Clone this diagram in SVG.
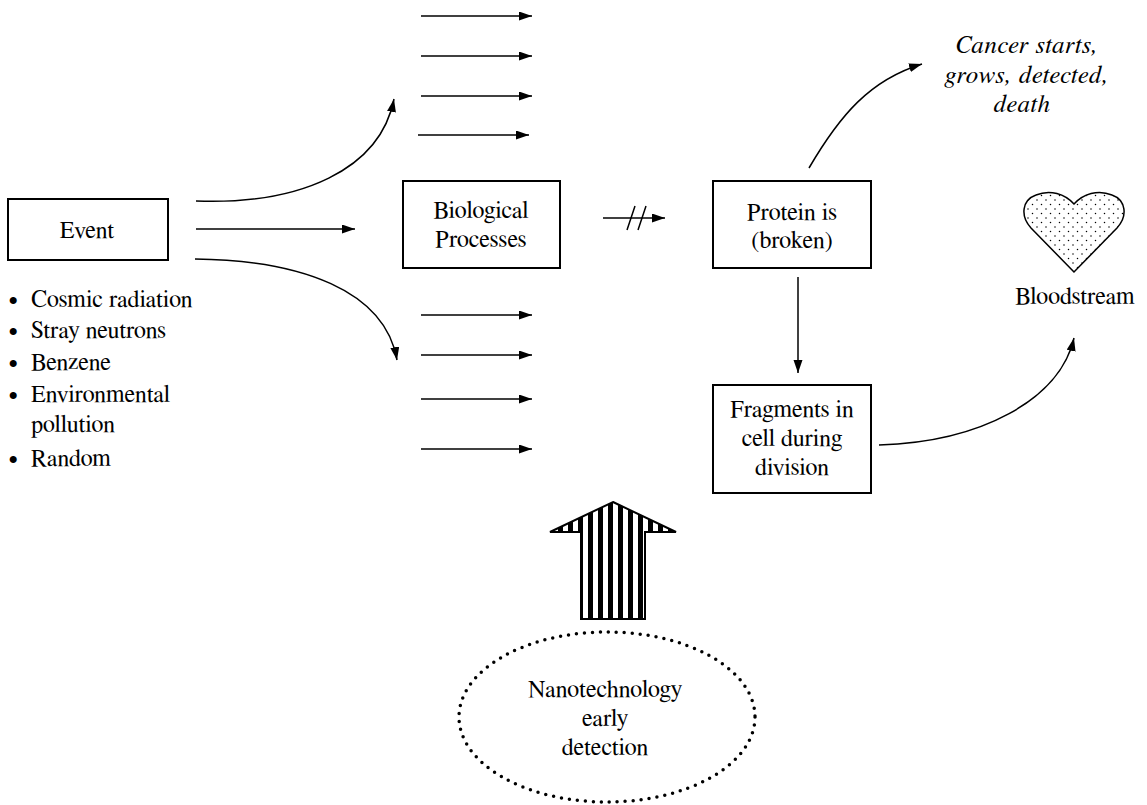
<svg xmlns="http://www.w3.org/2000/svg" width="1147" height="805" viewBox="0 0 1147 805">
<style>
text{font-family:'FreeSerif','Liberation Serif','Times New Roman',serif;font-size:24px;fill:#000}
.c{text-anchor:middle}
.it{font-style:italic;font-size:25px;letter-spacing:0.7px}
.bul{font-size:26px}
.box{fill:#fff;stroke:#000;stroke-width:2}
.ln{fill:none;stroke:#000;stroke-width:1.5}
.arr{fill:none;stroke:#000;stroke-width:1.5;marker-end:url(#ah)}
</style>
<defs>
<marker id="ah" markerUnits="userSpaceOnUse" markerWidth="14" markerHeight="10" refX="13" refY="4.5" orient="auto">
<path d="M0,0 L13,4.5 L0,9 z" fill="#000"/>
</marker>
<pattern id="stripes" patternUnits="userSpaceOnUse" x="588" y="0" width="10" height="10">
<rect x="0" y="0" width="5" height="10" fill="#000"/>
<rect x="5" y="0" width="5" height="10" fill="#fff"/>
</pattern>
<pattern id="dots" patternUnits="userSpaceOnUse" x="0" y="0" width="9" height="9">
<rect width="9" height="9" fill="#fff"/>
<circle cx="2" cy="2" r="0.75" fill="#000"/>
<circle cx="6.5" cy="6.5" r="0.75" fill="#000"/>
</pattern>
</defs>
<rect width="1147" height="805" fill="#fff"/>

<g id="connectors">
<path class="arr" d="M196,201 C300,205 380,170 394,99"/>
<line class="arr" x1="196" y1="229" x2="355" y2="229"/>
<path class="arr" d="M195,259 C300,260 385,290 397,360"/>
<line class="arr" x1="421" y1="16" x2="532" y2="16"/>
<line class="arr" x1="421" y1="56" x2="532" y2="56"/>
<line class="arr" x1="421" y1="96" x2="532" y2="96"/>
<line class="arr" x1="418" y1="135" x2="529" y2="135"/>
<line class="arr" x1="421" y1="315" x2="532" y2="315"/>
<line class="arr" x1="421" y1="355" x2="532" y2="355"/>
<line class="arr" x1="421" y1="399" x2="532" y2="399"/>
<line class="arr" x1="421" y1="449" x2="532" y2="449"/>
<g id="broken-arrow">
<line class="arr" x1="603" y1="218" x2="665" y2="218"/>
<line class="ln" x1="627" y1="230" x2="635" y2="206"/>
<line class="ln" x1="638" y1="230" x2="646" y2="206"/>
</g>
<path class="arr" d="M809,168 C840,115 870,80 922,64"/>
<line class="arr" x1="798" y1="277" x2="798" y2="373"/>
<path class="arr" d="M879,445 C980,442 1060,400 1074,338"/>
</g>

<g id="event">
<rect class="box" x="8" y="199" width="160" height="61"/>
<text class="c" x="87" y="238">Event</text>
</g>

<g id="causes">
<text class="bul" x="8" y="307">•</text><text x="31" y="307">Cosmic radiation</text>
<text class="bul" x="8" y="338">•</text><text x="31" y="338">Stray neutrons</text>
<text class="bul" x="8" y="370">•</text><text x="31" y="370">Benzene</text>
<text class="bul" x="8" y="402">•</text><text x="31" y="402">Environmental</text>
<text x="31" y="432">pollution</text>
<text class="bul" x="8" y="466">•</text><text x="31" y="466">Random</text>
</g>

<g id="biological">
<rect class="box" x="403" y="181" width="157" height="87"/>
<text class="c" x="481" y="218">Biological</text>
<text class="c" x="481" y="247">Processes</text>
</g>

<g id="protein">
<rect class="box" x="713" y="181" width="158" height="87"/>
<text class="c" x="792" y="220">Protein is</text>
<text class="c" x="792" y="248">(broken)</text>
</g>

<g id="fragments">
<rect class="box" x="713" y="385" width="158" height="108"/>
<text class="c" x="792" y="417">Fragments in</text>
<text class="c" x="792" y="446">cell during</text>
<text class="c" x="792" y="475">division</text>
</g>

<g id="cancer">
<text class="c it" x="1027" y="53">Cancer starts,</text>
<text class="c it" x="1027" y="83">grows, detected,</text>
<text class="c it" x="1022" y="112">death</text>
</g>

<g id="bloodstream">
<path d="M1074,272 L1031,228 C1020,216 1022,200 1036,195 C1050,189 1065,194 1074,204 C1083,194 1098,189 1112,195 C1126,200 1128,216 1117,228 Z" fill="url(#dots)" stroke="#000" stroke-width="1.5"/>
<text class="c" x="1075" y="304">Bloodstream</text>
</g>

<g id="nano-arrow">
<polygon points="613,502 676,532 645,532 645,619 581,619 581,532 550,532" fill="url(#stripes)" stroke="#000" stroke-width="2"/>
</g>

<g id="nanotech">
<ellipse cx="607" cy="717" rx="148" ry="85" fill="none" stroke="#000" stroke-width="3.5" stroke-linecap="round" stroke-dasharray="0 8"/>
<text class="c" x="605" y="697">Nanotechnology</text>
<text class="c" x="605" y="726">early</text>
<text class="c" x="605" y="755">detection</text>
</g>
</svg>
